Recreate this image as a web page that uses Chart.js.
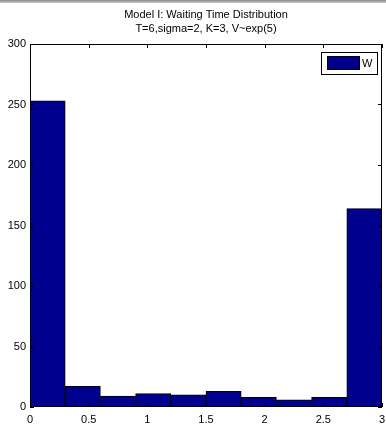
<!DOCTYPE html>
<html lang="en">

<head>
    <meta charset="UTF-8">
    <title>Model I: Waiting Time Distribution</title>
    <style>
        body {
            margin: 0;
            background: #fff;
            font-family: "Liberation Sans", Arial, sans-serif;
        }

        .wrap {
            position: relative;
            width: 386px;
            height: 426px;
        }

        .topstrip {
            position: absolute;
            left: 0;
            top: 0;
            width: 386px;
            height: 3px;
            background: linear-gradient(#8a8a8a, #c8c8c8);
        }
    </style>
</head>

<body>
    <div class="wrap">
        <canvas id="histChart" width="386" height="426"></canvas>
        <div class="topstrip"></div>
    </div>
    <script src="https://cdn.jsdelivr.net/npm/chart.js"></script>
    <script>
        // histogram bins (centres of 0.3-wide bins from 0 to 3)
        const binCenters = [0.15, 0.45, 0.75, 1.05, 1.35, 1.65, 1.95, 2.25, 2.55, 2.85];
        const counts = [253, 17, 9, 11, 10, 13, 8, 6, 8, 164];

        const xTickValues = [0, 0.5, 1, 1.5, 2, 2.5, 3];
        const xTickLabels = ['0', '0.5', '1', '1.5', '2', '2.5', '3'];
        const yTickValues = [0, 50, 100, 150, 200, 250, 300];
        const yTickLabels = ['0', '50', '100', '150', '200', '250', '300'];

        const titleLines = ['Model I: Waiting Time Distribution', 'T=6,sigma=2, K=3, V~exp(5)'];
        const seriesName = 'W';

        const barColor = '#00008f';
        const font = { family: '"Liberation Sans", Arial, sans-serif', size: 11 };

        // box around the axes, inward ticks on all four sides, and the boxed legend
        const matlabAxes = {
            id: 'matlabAxes',
            afterDraw(chart) {
                const { ctx, chartArea: a, scales } = chart;
                const len = 4;
                ctx.save();
                ctx.strokeStyle = '#000';
                ctx.lineWidth = 1;
                ctx.strokeRect(a.left + 0.5, a.top + 0.5, a.right - a.left - 1, a.bottom - a.top - 1);

                ctx.beginPath();
                scales.x.ticks.forEach(t => {
                    const px = Math.round(scales.x.getPixelForValue(t.value)) + 0.5;
                    ctx.moveTo(px, a.bottom); ctx.lineTo(px, a.bottom - len);
                    ctx.moveTo(px, a.top); ctx.lineTo(px, a.top + len);
                });
                scales.y.ticks.forEach(t => {
                    const py = Math.round(scales.y.getPixelForValue(t.value)) + 0.5;
                    ctx.moveTo(a.left, py); ctx.lineTo(a.left + len, py);
                    ctx.moveTo(a.right, py); ctx.lineTo(a.right - len, py);
                });
                ctx.stroke();

                // legend
                const ds = chart.data.datasets[0];
                const bx = a.right - 61, by = a.top + 8, bw = 56, bh = 22;
                ctx.fillStyle = '#fff';
                ctx.fillRect(bx, by, bw, bh);
                ctx.strokeRect(bx + 0.5, by + 0.5, bw, bh);
                ctx.fillStyle = ds.backgroundColor;
                ctx.fillRect(bx + 6, by + 4, 32, 13);
                ctx.strokeRect(bx + 6.5, by + 4.5, 32, 13);
                ctx.fillStyle = '#000';
                ctx.font = font.size + 'px ' + font.family;
                ctx.textBaseline = 'middle';
                ctx.fillText(ds.label, bx + 41, by + 11.5);
                ctx.restore();
            }
        };

        new Chart(document.getElementById('histChart'), {
            type: 'bar',
            data: {
                datasets: [{
                    label: seriesName,
                    data: binCenters.map((x, i) => ({ x: x, y: counts[i] })),
                    backgroundColor: barColor,
                    borderColor: '#000',
                    borderWidth: 1,
                    borderSkipped: false,
                    barPercentage: 1,
                    categoryPercentage: 1
                }]
            },
            options: {
                responsive: false,
                animation: false,
                layout: { autoPadding: false, padding: { left: 0, right: 4, top: 0, bottom: 0 } },
                plugins: {
                    legend: { display: false },
                    tooltip: { enabled: false },
                    title: {
                        display: true,
                        fullSize: false,
                        text: titleLines,
                        color: '#000',
                        font: { family: font.family, size: 11, weight: 'normal', lineHeight: '14px' },
                        padding: { top: 8, bottom: 8 }
                    }
                },
                scales: {
                    x: {
                        type: 'linear',
                        min: 0,
                        max: 3,
                        offset: false,
                        afterBuildTicks: s => { s.ticks = xTickValues.map(v => ({ value: v })); },
                        afterFit: s => { s.height = 19; s.paddingRight = 0; s.paddingLeft = 0; },
                        ticks: {
                            color: '#000',
                            font: font,
                            padding: 6,
                            maxRotation: 0,
                            callback: (v) => xTickLabels[xTickValues.indexOf(v)]
                        },
                        grid: { display: false, drawTicks: false },
                        border: { display: false }
                    },
                    y: {
                        min: 0,
                        max: 300,
                        afterBuildTicks: s => { s.ticks = yTickValues.map(v => ({ value: v })); },
                        afterFit: s => { s.width = 30; s.paddingTop = 0; s.paddingBottom = 0; },
                        ticks: {
                            color: '#000',
                            font: font,
                            padding: 4,
                            callback: (v) => yTickLabels[yTickValues.indexOf(v)]
                        },
                        grid: { display: false, drawTicks: false },
                        border: { display: false }
                    }
                }
            },
            plugins: [matlabAxes]
        });
    </script>
</body>

</html>
